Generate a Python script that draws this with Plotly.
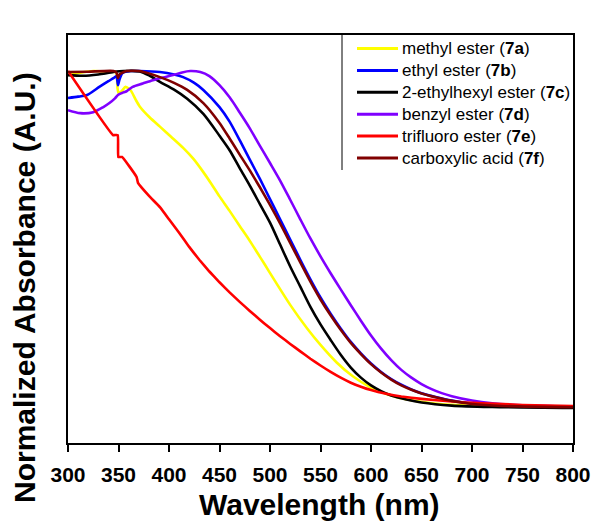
import plotly.graph_objects as go

# Normalized UV-Vis absorbance spectra of compounds 7a-7f

wl_7a = [300, 312, 325, 340, 347.5, 349, 350, 353, 357, 362, 367, 371, 381, 391, 402, 414, 424,
         434, 442, 450, 460, 470, 478, 487, 495, 503, 520, 537, 550, 566, 582, 599, 616, 636,
         668, 700, 750, 800]
abs_7a = [0.988, 0.995, 1.0, 0.998, 0.996, 0.95, 0.935, 0.94, 0.953, 0.943, 0.915, 0.895, 0.862,
          0.835, 0.805, 0.772, 0.740, 0.700, 0.665, 0.628, 0.585, 0.540, 0.505, 0.463, 0.425,
          0.386, 0.306, 0.235, 0.187, 0.135, 0.094, 0.062, 0.041, 0.025, 0.012, 0.007, 0.004,
          0.003]

wl_7b = [300, 310, 319, 331, 340, 345, 348, 349.5, 351, 354, 362, 371, 391, 405, 414, 425, 434,
         450, 460, 470, 480, 490, 500, 510, 520, 530, 540, 550, 560, 570, 580, 590, 600, 610,
         620, 630, 640, 650, 665, 680, 700, 730, 800]
abs_7b = [0.920, 0.924, 0.929, 0.953, 0.970, 0.979, 0.985, 0.958, 0.975, 0.994, 1.0, 1.0, 0.997,
          0.99, 0.982, 0.965, 0.944, 0.893, 0.850, 0.795, 0.737, 0.680, 0.620, 0.560, 0.500,
          0.440, 0.382, 0.328, 0.280, 0.236, 0.196, 0.162, 0.132, 0.107, 0.086, 0.069, 0.055,
          0.044, 0.032, 0.022, 0.013, 0.006, 0.002]

wl_7c = [300, 315, 330, 345, 355, 371, 381, 391, 405, 418, 434, 450, 460, 470, 480, 490, 500,
         510, 520, 530, 540, 550, 560, 570, 580, 590, 600, 610, 620, 635, 650, 680, 720, 800]
abs_7c = [0.988, 0.986, 0.99, 0.997, 1.0, 0.999, 0.986, 0.968, 0.945, 0.918, 0.873, 0.808, 0.765,
          0.712, 0.660, 0.605, 0.550, 0.485, 0.420, 0.360, 0.300, 0.248, 0.202, 0.158, 0.120,
          0.090, 0.067, 0.050, 0.037, 0.025, 0.016, 0.007, 0.003, 0.0]

wl_7d = [300, 312, 325, 335, 341, 346.5, 349.5, 353.5, 358, 364, 374, 384, 394, 404, 413, 421,
         431, 440, 450, 460, 470, 480, 490, 500, 510, 520, 530, 540, 550, 560, 570, 580, 590,
         600, 610, 620, 630, 640, 650, 660, 670, 680, 700, 720, 750, 800]
abs_7d = [0.884, 0.875, 0.878, 0.893, 0.905, 0.919, 0.929, 0.935, 0.94, 0.953, 0.963, 0.973,
          0.981, 0.988, 0.996, 1.0, 0.997, 0.985, 0.958, 0.922, 0.877, 0.830, 0.778, 0.727,
          0.675, 0.618, 0.560, 0.503, 0.450, 0.400, 0.352, 0.305, 0.259, 0.215, 0.176, 0.142,
          0.113, 0.090, 0.071, 0.056, 0.044, 0.035, 0.022, 0.014, 0.008, 0.004]

wl_7e = [300, 344.5, 349.3, 349.8, 353.5, 360, 368, 369.3, 380, 391, 400, 410, 420, 430, 440,
         450, 460, 470, 480, 490, 500, 510, 520, 530, 540, 550, 560, 570, 580, 590, 600, 615,
         630, 650, 680, 710, 750, 800]
abs_7e = [1.0, 0.81, 0.81, 0.745, 0.745, 0.72, 0.685, 0.668, 0.63, 0.596, 0.56, 0.52, 0.478,
          0.44, 0.405, 0.373, 0.343, 0.315, 0.288, 0.262, 0.237, 0.213, 0.190, 0.168, 0.146,
          0.126, 0.107, 0.090, 0.075, 0.063, 0.053, 0.042, 0.034, 0.027, 0.019, 0.014, 0.009,
          0.006]

wl_7f = [300, 320, 345, 348, 349.5, 351, 358, 371, 391, 405, 418, 434, 450, 460, 470, 480, 490,
         500, 510, 520, 530, 540, 550, 560, 570, 580, 590, 600, 610, 620, 630, 640, 650, 665,
         680, 700, 730, 800]
abs_7f = [0.997, 0.998, 1.0, 0.995, 0.979, 0.99, 1.0, 1.0, 0.982, 0.965, 0.944, 0.905, 0.846,
          0.80, 0.752, 0.705, 0.655, 0.603, 0.548, 0.49, 0.432, 0.375, 0.322, 0.275, 0.232,
          0.193, 0.160, 0.130, 0.105, 0.084, 0.067, 0.054, 0.043, 0.031, 0.021, 0.012, 0.006,
          0.002]

labels = ["methyl ester (<b>7a</b>)", "ethyl ester (<b>7b</b>)", "2-ethylhexyl ester (<b>7c</b>)",
          "benzyl ester (<b>7d</b>)", "trifluoro ester (<b>7e</b>)", "carboxylic acid (<b>7f</b>)"]
colors = ["#FFFF00", "#0000FF", "#000000", "#8000FF", "#FF0000", "#800000"]
smoothing = [0.6, 0.6, 0.8, 0.8, 0.3, 0.6]
wavelengths = [wl_7a, wl_7b, wl_7c, wl_7d, wl_7e, wl_7f]
absorbances = [abs_7a, abs_7b, abs_7c, abs_7d, abs_7e, abs_7f]

x_ticks = [300, 350, 400, 450, 500, 550, 600, 650, 700, 750, 800]

# figure geometry (pixels)
W, H = 595, 525
L, R, T, B = 68, 22, 35, 82
plot_w, plot_h = W - L - R, H - T - B


def px_x(x):
    return (x - L) / plot_w


def px_y(y):
    return (H - B - y) / plot_h


font_family = "Liberation Sans, Arial, sans-serif"

fig = go.Figure()
for name, x, y, color, sm in zip(labels, wavelengths, absorbances, colors, smoothing):
    fig.add_trace(go.Scatter(x=x, y=y, mode="lines", name=name, showlegend=False,
                             line=dict(color=color, width=2.6, shape="spline", smoothing=sm)))

# legend drawn as line samples and labels inside a framed corner box
shapes = [dict(type="line", xref="paper", yref="paper", x0=px_x(342), x1=px_x(342),
               y0=1.0, y1=px_y(170), line=dict(color="black", width=1))]
annotations = []
for i, (name, color) in enumerate(zip(labels, colors)):
    yc = px_y(48.5 + 21.9 * i)
    shapes.append(dict(type="line", xref="paper", yref="paper", x0=px_x(357), x1=px_x(398),
                       y0=yc, y1=yc, line=dict(color=color, width=3)))
    annotations.append(dict(text=name, xref="paper", yref="paper", x=px_x(400), y=yc,
                            xanchor="left", yanchor="middle", showarrow=False,
                            font=dict(size=17, family=font_family, color="black")))

annotations.append(dict(text="<b>Wavelength (nm)</b>", xref="paper", yref="paper",
                        x=px_x(319), y=px_y(505), xanchor="center", yanchor="middle",
                        showarrow=False, font=dict(size=30, family=font_family)))
annotations.append(dict(text="<b>Normalized Absorbance (A.U.)</b>", xref="paper", yref="paper",
                        x=px_x(24), y=px_y(288), xanchor="center", yanchor="middle",
                        textangle=-90, showarrow=False, font=dict(size=30, family=font_family)))

fig.update_layout(
    width=W, height=H,
    margin=dict(l=L, r=R, t=T, b=B, autoexpand=False),
    paper_bgcolor="white", plot_bgcolor="white",
    font=dict(family=font_family, color="black"),
    showlegend=False,
    xaxis=dict(range=[300, 800], tickvals=x_ticks, ticks="outside", ticklen=7, tickwidth=2,
               tickcolor="black", showline=True, linecolor="black", linewidth=2, mirror=True,
               showgrid=False, zeroline=False, automargin=False, ticklabelstandoff=5,
               tickfont=dict(size=21, family=font_family, weight="bold")),
    yaxis=dict(range=[-0.104, 1.107], showticklabels=False, ticks="", showline=True,
               linecolor="black", linewidth=2, mirror=True, showgrid=False, zeroline=False,
               automargin=False),
    shapes=shapes,
    annotations=annotations,
)

fig.write_html("out.html")
